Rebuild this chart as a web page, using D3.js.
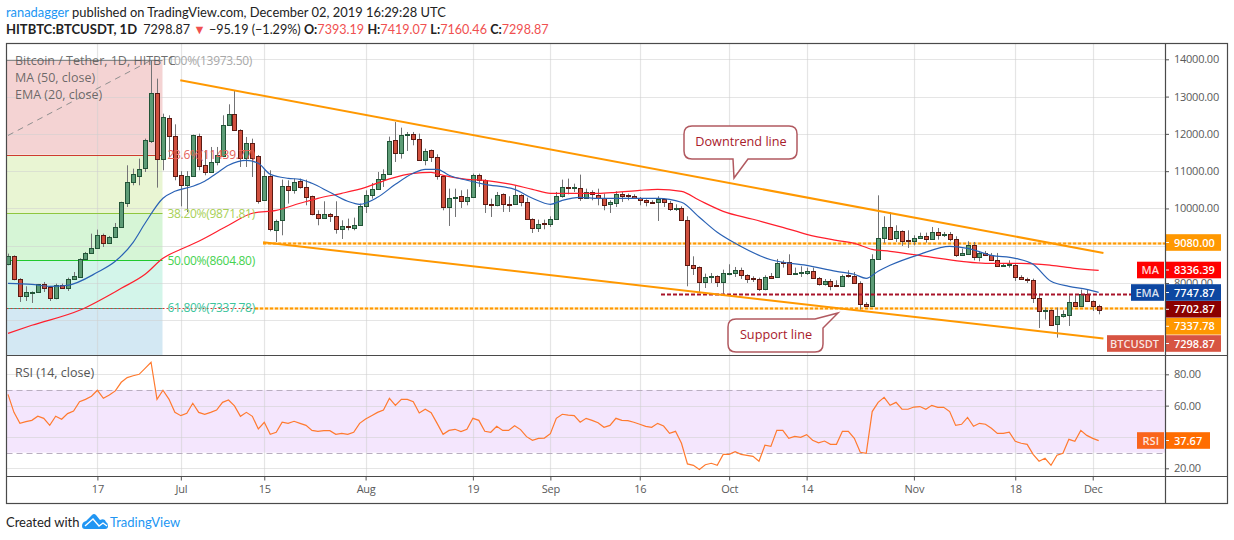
<!DOCTYPE html>
<html>
<head>
<meta charset="utf-8">
<title>Bitcoin / Tether, 1D</title>
<script src="https://d3js.org/d3.v7.min.js"></script>
<style>
  html, body { margin: 0; padding: 0; background: #fff; }
  svg { display: block; }
  text { font-family: "Open Sans", "Noto Sans", sans-serif; }
  .ui { font-family: Lato, "Open Sans", sans-serif; }
</style>
</head>
<body>
<svg id="chart" width="1234" height="540"></svg>

<script>
// daily candles, 2 Jun 2019 to 2 Dec 2019
var startDate = "2019-06-02";
var opens = [8502,8716,8118,7653,7760,7760,7974,7885,7599,7956,7867,8118,8180,8645,8806,8949,9298,9074,9244,9512,
  10156,10710,10889,11068,11818,13106,11336,12435,11952,10889,10612,10862,11952,11157,10978,11246,11416,12247,12542,12113,
  11353,11765,11416,10218,10862,9432,9682,10612,10504,10728,10585,10344,9861,9754,9861,9807,9450,9539,9485,9566,
  10075,10370,10531,10800,10934,11845,11497,11980,12006,11863,11309,11568,11390,10880,10040,10290,10344,10201,10308,10907,
  10773,10120,10093,10397,10130,10129,10370,10183,9727,9485,9600,9593,9727,10344,10585,10558,10558,10290,10451,10370,
  10290,10102,10156,10397,10350,10344,10290,10227,10183,10156,10245,10156,9995,10022,9700,8484,8440,8037,8171,8198,
  8037,8270,8278,8359,8225,8125,8118,7840,8198,8162,8556,8556,8243,8278,8270,8332,8144,7975,8064,7938,
  7921,8205,8198,8010,7447,7393,8654,9217,9512,9217,9405,9145,9137,9217,9271,9181,9378,9298,9324,9181,
  8752,8779,9029,8717,8815,8761,8627,8466,8475,8493,8171,8118,8091,7608,7259,7286,6884,7107,7152,7500,
  7384,7715,7527,7393.19];
var highs = [8788,8743,8130,7912,7775,7974,8028,7921,7983,7983,8144,8296,8663,8833,9324,9432,9324,9262,9610,10180,
  11157,11067,11336,11872,13973,13481,12542,12498,12256,11000,11000,11980,12006,11559,11649,11649,12498,12793,13168,12122,
  11917,11872,11430,11023,11023,9700,10773,10755,10800,10800,10773,10344,9950,10192,9879,10192,9682,9727,9754,10129,
  10487,10683,10978,11050,11926,12319,12167,12051,12051,12006,11604,11580,11452,10890,10531,10531,10487,10513,10934,10934,
  10785,10263,10442,10405,10326,10621,10380,10290,9735,9700,9700,9789,10442,10773,10800,10665,10907,10531,10487,10531,
  10397,10218,10460,10442,10397,10379,10308,10245,10218,10326,10263,10201,10111,10057,9789,8716,8445,8252,8269,8205,
  8359,8502,8430,8413,8232,8180,8144,8207,8269,8645,8609,8770,8413,8448,8413,8413,8162,8108,8108,8073,
  8225,8341,8296,8046,7483,8770,10352,9789,9905,9548,9412,9414,9280,9351,9351,9503,9476,9369,9369,9253,
  8922,9119,9101,8860,8860,8806,8806,8538,8609,8520,8207,8144,8118,7715,7340,7290,7340,7268,7670,7670,
  7822,7822,7535,7419.07];
var lows = [8475,8073,7492,7518,7465,7751,7760,7518,7563,7849,7787,8100,8162,8627,8788,8940,8967,9056,9208,9503,
  10040,10621,10621,10978,11756,10558,11023,11380,10755,10057,9905,10844,11023,10889,10978,11157,11380,12229,12100,11112,
  11112,10844,10129,10200,9387,9101,9280,10129,10397,10531,10084,9816,9548,9745,9637,9324,9181,9414,9414,9548,
  9879,10263,10531,10576,10934,11246,11336,11541,11693,11273,11157,11246,10773,9950,9530,9771,10013,10084,10308,10576,
  9879,9771,10057,9906,9906,10111,10057,9709,9342,9369,9441,9503,9718,10290,10379,10442,10201,10263,10218,10084,
  9950,9879,10040,10174,10218,10263,10084,10057,10129,9664,10040,9932,9932,9664,7912,8216,7760,7867,8001,7894,
  7715,8207,8162,8109,8001,8028,7787,7805,8126,8162,8413,8234,8234,8162,8216,8109,7930,7930,7805,7912,
  7894,8144,8005,7286,7375,7385,8650,9074,9175,9101,8994,8940,9012,9190,9083,9163,9163,9235,9119,8699,
  8725,8770,8609,8582,8734,8609,8430,8448,8413,8055,8091,8001,7465,6794,7018,6857,6535,7072,6848,7375,
  7375,7492,7250,7160.46];
var closes = [8716,8100,7662,7769,7769,7974,7867,7599,7956,7867,8118,8198,8654,8815,8949,9298,9074,9244,9512,10174,
  10719,10920,11068,11827,13106,11336,12462,11952,10889,10612,10862,11962,11157,10978,11255,11425,12247,12542,12113,11353,
  11765,11362,10218,10871,9432,9664,10603,10504,10719,10576,10326,9852,9754,9861,9807,9459,9539,9503,9566,10075,
  10370,10531,10800,10934,11819,11497,11980,12006,11863,11309,11550,11390,10871,10049,10290,10308,10201,10317,10907,10773,
  10120,10093,10370,10120,10120,10370,10183,9727,9485,9593,9590,9727,10344,10585,10558,10570,10290,10451,10397,10290,
  10093,10165,10397,10335,10344,10290,10227,10174,10147,10245,10156,9995,10005,9691,8484,8413,8037,8171,8198,8037,
  8278,8280,8359,8225,8118,8118,7840,8171,8135,8547,8547,8243,8278,8285,8332,8135,7975,8064,7930,7930,
  8198,8198,8010,7447,7393,8654,9217,9512,9181,9405,9128,9137,9217,9271,9181,9378,9298,9324,9181,8752,
  8797,9029,8717,8815,8761,8627,8466,8477,8502,8162,8108,8091,7608,7259,7286,6875,7107,7161,7500,7384,
  7715,7527,7384,7298.87];

// moving averages: day number since startDate, value
var maDays = [0,4,12,19,23,26,29,32,37,41,45,49,52,56,60,64,68,71,73,77,80,84,88,91,94,99,102,106,109,113,116,120,125,130,134,139,142,145,148,154,160,164,170,175,179,183];
var maValues = [6651,6866,7268,7858,8234,8663,8904,9119,9548,9870,9950,10138,10272,10406,10567,10795,10943,10969,10889,10782,10755,10661,10513,10406,10406,10406,10433,10487,10513,10460,10218,9923,9709,9494,9306,9146,9065,8904,8851,8716,8582,8529,8529,8475,8395,8336.39];
var emaDays = [0,4,7,10,15,18,21,23,26,28,31,33,35,37,40,42,44,47,49,51,54,57,59,62,65,68,70,72,74,77,80,85,88,91,93,96,99,109,113,116,119,122,128,134,139,142,144,146,148,153,158,161,165,169,172,175,178,181,183];
var emaValues = [7992,7965,7912,7939,8287,8582,9092,9602,10272,10460,10594,10728,10943,11157,11291,11211,10916,10808,10782,10674,10433,10192,10111,10299,10647,10943,11050,11050,10889,10755,10647,10513,10272,10111,10218,10299,10272,10272,10165,9762,9360,9065,8623,8475,8314,8234,8126,8314,8475,8770,8985,8931,8743,8663,8502,8046,7912,7831,7747.87];

// RSI (14), one value per candle
var rsiValues = [67.2,55.7,48.7,49.8,50.6,53.2,51.9,47.4,53.2,51.3,54.9,56.6,62.5,64.0,66.0,69.8,64.7,66.8,69.4,74.9,
  77.9,79.1,80.0,83.8,87.7,64.0,69.8,64.2,55.7,53.6,55.1,61.5,55.7,54.5,55.7,57.2,62.1,63.6,59.8,53.2,
  55.7,53.2,45.1,49.4,41.7,43.0,49.4,48.7,50.0,48.7,47.4,44.2,43.6,44.0,44.0,41.7,42.3,41.7,43.0,48.7,
  51.5,53.6,55.7,57.2,64.7,60.2,64.0,64.0,62.5,55.3,57.7,55.5,48.7,41.7,44.2,44.9,43.4,44.9,51.9,50.6,
  43.6,43.0,46.8,44.2,44.2,47.2,44.7,40.2,37.9,39.1,39.3,42.1,51.9,54.5,54.0,53.6,49.4,51.9,50.6,49.1,
  46.2,47.4,51.9,50.6,50.4,49.4,48.1,46.8,46.2,48.7,47.0,42.3,43.6,36.0,22.8,21.9,19.3,22.3,23.2,21.9,
  28.9,28.9,30.6,28.9,28.3,27.6,24.5,34.7,34.0,44.2,44.2,39.1,40.4,39.8,41.5,37.9,36.2,37.4,35.3,35.3,
  43.6,43.6,39.1,30.2,29.6,56.2,62.1,65.3,60.2,62.1,57.7,57.7,59.1,59.4,57.7,60.2,58.9,58.9,56.2,47.4,
  48.1,52.5,46.8,48.7,48.1,45.5,42.3,42.3,43.0,37.2,36.0,35.3,28.9,24.5,26.4,21.9,28.3,29.6,38.5,37.2,
  44.2,41.0,39.1,37.67];

// axis ticks; 7000, 9000 and RSI 40 have a grid line but their labels sit behind the price tags
var priceTicks = [7000,8000,9000,10000,11000,12000,13000,14000];
var priceLabelTicks = [8000,10000,11000,12000,13000,14000];
var rsiTicks = [20,40,60,80];
var rsiLabelTicks = [20,60,80];
var dateTicks = ["2019-06-17","2019-07-01","2019-07-15","2019-08-01","2019-08-19","2019-09-01","2019-09-16","2019-10-01","2019-10-14","2019-11-01","2019-11-18","2019-12-01"];
var dateLabels = ["17","Jul","15","Aug","19","Sep","16","Oct","14","Nov","18","Dec"];

// fibonacci levels
var fibRatios = ["100%","23.6%","38.20%","50.00%","61.80%"];
var fibLevels = [13973.50,11439.77,9871.81,8604.80,7337.78];
var fibFills = ["#f4d3d3","#e9f5d3","#d6f5d6","#d3f5ea","#d3e8f3"];
var fibLines = ["#8a8a8a","#cf3a2e","#8fc73e","#1fc92e","#17b890"];
var fibText = ["#a8a8a8","#e4635a","#a8d055","#45d24f","#3cc49c"];

// drawn trend lines [day, price]
var downtrendLine = [[28.9,13437],[183.8,8805]];
var supportTrendLine = [[42.8,9092],[183.8,6509]];
var fibDiagonal = [[0,11957],[24,13973.50]];
var level9080 = 9080.00, level7702 = 7702.87, level7337 = 7337.78;

var parseDay = d3.utcParse("%Y-%m-%d");
var day0 = parseDay(startDate);
function dayDate(n) { return new Date(+day0 + n * 864e5); }

var svg = d3.select("#chart");
var left = 6.5, axisX = 1165, right = 1227.5, top_ = 43.5, paneSplit = 355.5, rsiBottom = 476.5, bottom = 503.5;

var x = d3.scaleUtc().domain([day0, dayDate(183)]).range([8, 8 + 183 * 5.96]);
var y = d3.scaleLinear().domain([7000, 14000]).range([320.3, 59.3]);
var yr = d3.scaleLinear().domain([20, 80]).range([468.3, 374.3]);

svg.append("defs").append("clipPath").attr("id", "mainClip").append("rect")
  .attr("x", left).attr("y", top_).attr("width", axisX - left).attr("height", paneSplit - top_);
d3.select("defs").append("clipPath").attr("id", "rsiClip").append("rect")
  .attr("x", left).attr("y", paneSplit).attr("width", axisX - left).attr("height", rsiBottom - paneSplit);

var main = svg.append("g").attr("clip-path", "url(#mainClip)");
var fibRight = 162.5;

// fib zones, last one runs to the bottom of the pane
fibLevels.forEach(function(v, k) {
  var y0 = y(v), y1 = k < fibLevels.length - 1 ? y(fibLevels[k + 1]) : paneSplit;
  main.append("rect").attr("x", left).attr("y", y0).attr("width", fibRight - left).attr("height", y1 - y0).attr("fill", fibFills[k]);
});

// grid
var dateTickValues = dateTicks.map(parseDay);
function crisp(v) { return Math.round(v) + 0.5; }
main.selectAll(".hgrid").data(priceTicks).enter().append("line")
  .attr("x1", left).attr("x2", axisX).attr("y1", function(d) { return crisp(y(d)); }).attr("y2", function(d) { return crisp(y(d)); })
  .attr("stroke", "#cfcfcf").attr("stroke-opacity", 0.55).attr("stroke-width", 1.2);
main.selectAll(".vgrid").data(dateTickValues).enter().append("line")
  .attr("x1", function(d) { return crisp(x(d)); }).attr("x2", function(d) { return crisp(x(d)); }).attr("y1", top_).attr("y2", paneSplit)
  .attr("stroke", "#cfcfcf").attr("stroke-opacity", 0.55).attr("stroke-width", 1.2);

// fib level lines
fibLevels.forEach(function(v, k) {
  main.append("line").attr("x1", left).attr("x2", fibRight).attr("y1", crisp(y(v))).attr("y2", crisp(y(v)))
    .attr("stroke", fibLines[k]).attr("stroke-width", 1);
});
main.append("line").attr("x1", left).attr("x2", 255).attr("y1", crisp(y(level7337))).attr("y2", crisp(y(level7337)))
  .attr("stroke", "#d83a30").attr("stroke-width", 1).attr("stroke-dasharray", "2 2");

var priceLine = d3.line().x(function(d) { return x(dayDate(d[0])); }).y(function(d) { return y(d[1]); });
main.append("path").attr("d", priceLine(fibDiagonal)).attr("fill", "none")
  .attr("stroke", "#8f8f8f").attr("stroke-width", 1).attr("stroke-dasharray", "6 5");

// horizontal levels
function dashedLevel(level, x0, color, under) {
  main.append("line").attr("x1", x0).attr("x2", axisX).attr("y1", crisp(y(level))).attr("y2", crisp(y(level)))
    .attr("stroke", under).attr("stroke-width", 2.4);
  main.append("line").attr("x1", x0).attr("x2", axisX).attr("y1", crisp(y(level))).attr("y2", crisp(y(level)))
    .attr("stroke", color).attr("stroke-width", 2).attr("stroke-dasharray", "3 2");
}
dashedLevel(level9080, x(dayDate(42.8)), "#ff9800", "#ffe2b0");
dashedLevel(level7337, 255, "#ff9800", "#ffe2b0");

// candles
var days = d3.range(opens.length);
var candles = main.append("g");
candles.selectAll(".wick").data(days).enter().append("line")
  .attr("x1", function(i) { return crisp(x(dayDate(i))); })
  .attr("x2", function(i) { return crisp(x(dayDate(i))); })
  .attr("y1", function(i) { return y(highs[i]); })
  .attr("y2", function(i) { return y(lows[i]); })
  .attr("stroke", "#737375").attr("stroke-width", 1);
candles.selectAll(".body").data(days).enter().append("rect")
  .attr("x", function(i) { return crisp(x(dayDate(i))) - 2; })
  .attr("width", 4)
  .attr("y", function(i) { return Math.round(y(Math.max(opens[i], closes[i]))) + 0.5; })
  .attr("height", function(i) { return Math.max(1, Math.round(Math.abs(y(opens[i]) - y(closes[i])))); })
  .attr("fill", function(i) { return closes[i] >= opens[i] ? "#5d9c76" : "#d0503e"; })
  .attr("stroke", function(i) { return closes[i] >= opens[i] ? "#225437" : "#5b1a13"; })
  .attr("stroke-width", 1);

// moving averages
var seriesLine = d3.line().x(function(d) { return x(dayDate(d[0])); }).y(function(d) { return y(d[1]); }).curve(d3.curveMonotoneX);
main.append("path").attr("d", seriesLine(d3.zip(maDays, maValues))).attr("fill", "none").attr("stroke", "#ff1f2d").attr("stroke-width", 1.2);
main.append("path").attr("d", seriesLine(d3.zip(emaDays, emaValues))).attr("fill", "none").attr("stroke", "#2a62b5").attr("stroke-width", 1.2);

// red resistance dash on top of the candles
main.append("line").attr("x1", 661).attr("x2", axisX).attr("y1", crisp(y(level7702))).attr("y2", crisp(y(level7702)))
  .attr("stroke", "#a8142a").attr("stroke-width", 2).attr("stroke-dasharray", "4 2");

// trend lines
[downtrendLine, supportTrendLine].forEach(function(line) {
  main.append("path").attr("d", priceLine(line)).attr("fill", "none").attr("stroke", "#ff9800").attr("stroke-width", 2);
});

// fib labels
fibLevels.forEach(function(v, k) {
  main.append("text").attr("x", 167.5).attr("y", y(v) + 4.5).attr("font-size", 12).style("letter-spacing", "-0.3px")
    .attr("fill", fibText[k]).text(fibRatios[k] + "(" + v.toFixed(2) + ")");
});

// legend
var legendText = ["Bitcoin / Tether, 1D, HITBTC", "MA (50, close)", "EMA (20, close)"];
legendText.forEach(function(t, k) {
  svg.append("text").attr("x", 15).attr("y", 65 + k * 17).attr("font-size", 12.5).attr("fill", "#555").attr("fill-opacity", 0.85).text(t);
});

// callouts
function callout(path, tx, ty, label) {
  var g = svg.append("g");
  g.append("path").attr("d", path).attr("fill", "#fff").attr("stroke", "#a9474f").attr("stroke-width", 1.5).attr("stroke-opacity", 0.9);
  g.append("text").attr("x", tx).attr("y", ty).attr("text-anchor", "middle").attr("font-size", 12.7).attr("fill", "#a8202c").text(label);
}
callout("M692 126 H789 Q797 126 797 134 V151 Q797 159 789 159 H748 L734 178 L733 159 H692 Q684 159 684 151 V134 Q684 126 692 126 Z", 741, 146, "Downtrend line");
callout("M736 319 H815 L838 313 L823 328 V344 Q823 352 815 352 H736 Q728 352 728 344 V327 Q728 319 736 319 Z", 776, 339, "Support line");

// RSI pane
var rsi = svg.append("g").attr("clip-path", "url(#rsiClip)");
rsi.append("rect").attr("x", left).attr("y", yr(70)).attr("width", axisX - left).attr("height", yr(30) - yr(70)).attr("fill", "#f4e6fd");
rsi.selectAll(".hgrid").data(rsiTicks).enter().append("line")
  .attr("x1", left).attr("x2", axisX).attr("y1", function(d) { return crisp(yr(d)); }).attr("y2", function(d) { return crisp(yr(d)); })
  .attr("stroke", "#cfcfcf").attr("stroke-opacity", 0.55).attr("stroke-width", 1.2);
rsi.selectAll(".vgrid").data(dateTickValues).enter().append("line")
  .attr("x1", function(d) { return crisp(x(d)); }).attr("x2", function(d) { return crisp(x(d)); }).attr("y1", paneSplit).attr("y2", rsiBottom)
  .attr("stroke", "#cfcfcf").attr("stroke-opacity", 0.55).attr("stroke-width", 1.2);
[70, 30].forEach(function(v) {
  rsi.append("line").attr("x1", left).attr("x2", axisX).attr("y1", crisp(yr(v))).attr("y2", crisp(yr(v)))
    .attr("stroke", "#b9aec0").attr("stroke-width", 1).attr("stroke-dasharray", "6 4");
});
rsi.append("path").attr("fill", "none").attr("stroke", "#ff7a2f").attr("stroke-width", 1.2)
  .attr("d", d3.line().x(function(d, i) { return x(dayDate(i)); }).y(function(d) { return yr(d); })(rsiValues));
svg.append("text").attr("x", 15).attr("y", 377).attr("font-size", 12.5).attr("fill", "#555").text("RSI (14, close)");

// axes
function styleAxis(g) {
  g.select(".domain").remove();
  g.selectAll("line").attr("stroke", "#555");
  g.selectAll("text").attr("fill", "#5a5a5a").attr("font-size", 11).style("letter-spacing", "-0.25px").style("font-family", '"Open Sans", sans-serif');
}
svg.append("g").attr("transform", "translate(" + axisX + ",0)")
  .call(d3.axisRight(y).tickValues(priceLabelTicks).tickFormat(d3.format(".2f")).tickSize(4).tickPadding(5)).call(styleAxis);
svg.append("g").attr("transform", "translate(" + axisX + ",0)")
  .call(d3.axisRight(yr).tickValues(rsiLabelTicks).tickFormat(d3.format(".2f")).tickSize(4).tickPadding(5)).call(styleAxis);
svg.append("g").attr("transform", "translate(0," + rsiBottom + ")")
  .call(d3.axisBottom(x).tickValues(dateTickValues).tickFormat(function(d, i) { return dateLabels[i]; }).tickSize(4).tickPadding(5)).call(styleAxis);

// price tags
function tag(value, label, color, tagColor, x0, yCenter, valueRight) {
  var h = 16.6, g = svg.append("g");
  g.append("rect").attr("x", axisX).attr("y", yCenter - h / 2).attr("width", (valueRight || 1221) - axisX).attr("height", h).attr("fill", color);
  g.append("text").attr("x", axisX + 9).attr("y", yCenter + 4).attr("font-size", 11).attr("font-weight", 600).attr("fill", "#fff").text(value);
  if (label) {
    g.append("rect").attr("x", x0).attr("y", yCenter - h / 2).attr("width", axisX - x0 - 1).attr("height", h).attr("fill", tagColor);
    g.append("text").attr("x", axisX - 6).attr("y", yCenter + 4).attr("text-anchor", "end").attr("font-size", 11).attr("font-weight", 600).attr("fill", "#fff").attr("fill-opacity", 0.85).text(label);
  }
  g.append("line").attr("x1", axisX).attr("x2", axisX + 4).attr("y1", yCenter).attr("y2", yCenter).attr("stroke", "#fff");
}
tag("9080.00", null, "#ff9800", null, 0, 242.5);
tag("8336.39", "MA", "#ff0000", "#ff0000", 1137, 270);
tag("7747.87", "EMA", "#0d47a1", "#0d47a1", 1131, 292.5);
tag("7702.87", null, "#8b0000", null, 0, 309.3);
tag("7337.78", null, "#ff9800", null, 0, 326.3);
tag("7298.87", "BTCUSDT", "#d75442", "#d75442", 1107, 343.5);
tag("37.67", "RSI", "#ff6d00", "#f9651c", 1137, 440.5, 1210);

// frame
svg.append("rect").attr("x", left).attr("y", top_).attr("width", right - left).attr("height", bottom - top_)
  .attr("fill", "none").attr("stroke", "#4a4a4a").attr("stroke-width", 1.2);
svg.append("line").attr("x1", left).attr("x2", right).attr("y1", paneSplit).attr("y2", paneSplit).attr("stroke", "#4a4a4a").attr("stroke-width", 1.2);
svg.append("line").attr("x1", left).attr("x2", right).attr("y1", rsiBottom).attr("y2", rsiBottom).attr("stroke", "#4a4a4a").attr("stroke-width", 1.2);
svg.append("line").attr("x1", axisX + 0.5).attr("x2", axisX + 0.5).attr("y1", top_).attr("y2", bottom).attr("stroke", "#4a4a4a").attr("stroke-width", 1.2);

// header
var head1 = svg.append("text").attr("class", "ui").attr("x", 6).attr("y", 17).attr("font-size", 12.9).attr("fill", "#222");
head1.append("tspan").attr("fill", "#2196f3").text("ranadagger");
head1.append("tspan").text(" published on TradingView.com, December 02, 2019 16:29:28 UTC");

var head2 = svg.append("text").attr("class", "ui").attr("x", 6).attr("y", 34).attr("font-size", 12.6).attr("fill", "#222");
head2.append("tspan").attr("font-weight", 700).attr("font-size", 13).text("HITBTC:BTCUSDT, 1D");
head2.append("tspan").text(" 7298.87 ").attr("dx", 3);
head2.append("tspan").attr("fill", "#f05050").text("▼");
head2.append("tspan").text(" −95.19 (−1.29%) ");
[["O:","7393.19"],["H:","7419.07"],["L:","7160.46"],["C:","7298.87"]].forEach(function(p) {
  head2.append("tspan").attr("font-weight", 700).text(p[0]);
  head2.append("tspan").attr("fill", "#f05050").text(p[1] + " ");
});

// footer with the logo
svg.append("text").attr("class", "ui").attr("x", 6).attr("y", 527).attr("font-size", 13).attr("fill", "#222").text("Created with");
svg.append("path").attr("fill", "#2196f3")
  .attr("d", "M82 526 Q82 522 86 521 L92 515 Q94 513 96 515 L100 520 Q105 518 106 522 Q108 523 108 526 Q108 529 105 529 H85 Q82 529 82 526 Z");
svg.append("path").attr("fill", "none").attr("stroke", "#fff").attr("stroke-width", 1.4).attr("d", "M85 526 L93 519 L99 526 L103 523 L107 526");
svg.append("text").attr("class", "ui").attr("x", 110).attr("y", 527).attr("font-size", 13).attr("fill", "#2196f3").text("TradingView");
</script>
</body>
</html>
